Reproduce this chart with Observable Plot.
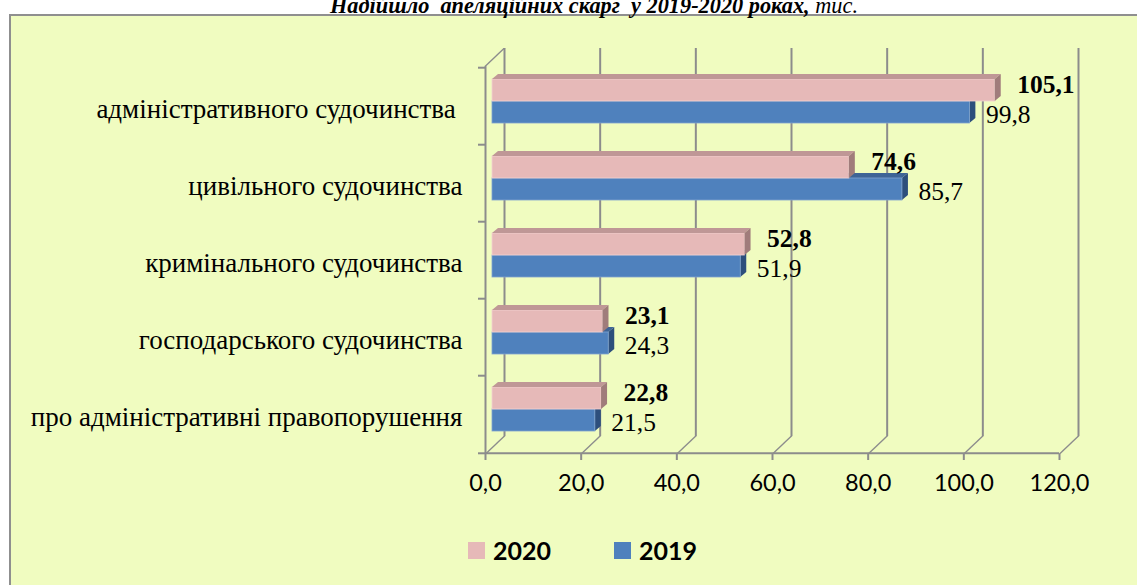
<!DOCTYPE html>
<html>
<head>
<meta charset="utf-8">
<script src="https://cdn.jsdelivr.net/npm/d3@7"></script>
<script src="https://cdn.jsdelivr.net/npm/@observablehq/plot@0.6"></script>
<style>
  html, body { margin: 0; padding: 0; background: #ffffff; overflow: hidden; }
  #page { position: relative; width: 1137px; height: 585px; overflow: hidden; }
  #panel { position: absolute; left: 9px; top: 14px; width: 1200px; height: 620px;
           background: #F0FCC0; border-left: 2px solid #8f8f8f; border-top: 2px solid #8f8f8f; }
  #title { position: absolute; left: 330px; top: -5px; white-space: pre; line-height: 1;
           font-family: "Liberation Serif", "DejaVu Serif", serif; font-size: 22.3px; color: #000; }
  #chart { position: absolute; left: 0; top: 0; }
  #legend { position: absolute; left: 0; top: 0; width: 1137px; height: 585px; pointer-events: none; }
  .lg-item { position: absolute; top: 535px; display: flex; align-items: center; gap: 8px;
             font-family: Lato, "Open Sans", sans-serif; font-weight: bold; font-size: 25px; color: #000; }
  .lg-swatch { width: 17px; height: 17px; display: inline-block; }
  g[aria-description="topface"] rect { transform-box: fill-box; transform-origin: left bottom; transform: skewX(-50.2deg); }
  g[aria-description="sideface"] rect { transform-box: fill-box; transform-origin: left top; transform: skewY(-39.8deg); }
  g[aria-description="slant"] line { transform-box: fill-box; transform-origin: center bottom; transform: skewX(-46.5deg); }
  g[aria-description="catlabels"] text { white-space: pre; }
</style>
</head>
<body>
<div id="page">
  <div id="panel"></div>
  <div id="title"><b><i>Надійшло  апеляційних скарг  у 2019-2020 роках, </i></b><i>тис.</i></div>
  <div id="chart"></div>
  <div id="legend"></div>
</div>
<script>
// ---- data ----
const categories = [
  "адміністративного судочинства ",
  "цивільного судочинства",
  "кримінального судочинства",
  "господарського судочинства",
  "про адміністративні правопорушення"
];
const values2020 = [105.1, 74.6, 52.8, 23.1, 22.8];
const values2019 = [99.8, 85.7, 51.9, 24.3, 21.5];
const xTicks = [0, 20, 40, 60, 80, 100, 120];
const seriesNames = ["2020", "2019"];
const seriesColors = ["#E6B9B8", "#4F81BD"];

// ---- styling / geometry ----
const W = 1137, H = 520;
const ML = 485, MR = W - 1059, MT = 66, MB = H - 454;
const frameW = W - ML - MR, frameH = H - MT - MB;
const step = frameH / categories.length;
const PI = 0.433;
const bw = step * (1 - PI);
const half = bw / 2;
const bx = 7, by = -5;          // bar depth offset
const wx = 19, wy = -18;        // back wall offset
const grid = "#8c8c8c";
const pinkTop = "#BF9796", pinkSide = "#A07C7B";
const blueTop = "#3E6496", blueSide = "#2D4F7C";
const serif = "Liberation Serif";
const sans = "Lato";

const fmt = v => d3.format(".1f")(v).replace(".", ",");
const rows2020 = categories.map((c, i) => ({category: c, value: values2020[i]}));
const rows2019 = categories.map((c, i) => ({category: c, value: values2019[i]}));
const last = categories[categories.length - 1];

const plot = Plot.plot({
  width: W, height: H,
  marginLeft: ML, marginRight: MR, marginTop: MT, marginBottom: MB,
  style: {background: "transparent", overflow: "visible"},
  x: {domain: [0, 120], axis: null},
  y: {domain: categories, axis: null, paddingInner: PI, paddingOuter: PI / 2},
  marks: [
    // back wall gridlines
    Plot.ruleX(xTicks, {x: d => d, dx: wx, dy: wy, stroke: grid, strokeWidth: 2}),
    // floor slants
    Plot.ruleX(xTicks, {x: d => d, insetTop: frameH + wy, stroke: grid, strokeWidth: 2, ariaDescription: "slant"}),
    // left wall front edge and top slant
    Plot.ruleX([0], {x: d => d, stroke: grid, strokeWidth: 2}),
    Plot.ruleX([0], {x: d => d, insetBottom: frameH + wy, dy: wy, stroke: grid, strokeWidth: 2, ariaDescription: "slant"}),
    // left ticks at category boundaries
    Plot.ruleY(categories, {y: d => d, dy: -step / 2, dx: -7, insetRight: frameW - 7, stroke: grid, strokeWidth: 2}),
    Plot.ruleY([last], {y: d => d, dy: step / 2, dx: -7, insetRight: frameW - 7, stroke: grid, strokeWidth: 2}),
    // front bottom edge
    Plot.ruleY([last], {y: d => d, dy: step / 2, stroke: grid, strokeWidth: 2}),
    // front ticks
    Plot.ruleX(xTicks, {x: d => d, insetTop: frameH - 6, dy: 6, stroke: grid, strokeWidth: 2}),

    // 2019 bars (blue)
    Plot.barX(rows2019, {x1: "value", x2: "value", y: "category", insetTop: half, insetRight: -6, dx: bx, dy: by, fill: blueSide, ariaDescription: "sideface"}),
    Plot.barX(rows2019, {x: "value", y: "category", insetTop: half - 5, insetBottom: half, dx: bx, dy: by, fill: blueTop, ariaDescription: "topface"}),
    Plot.barX(rows2019, {x: "value", y: "category", insetTop: half, dx: bx, dy: by, fill: seriesColors[1], stroke: "#7FA3D0", strokeWidth: 0.8}),
    // 2020 bars (pink)
    Plot.barX(rows2020, {x: "value", y: "category", insetBottom: half, dx: bx, dy: by, fill: seriesColors[0], stroke: "#F2D2D1", strokeWidth: 0.8}),
    Plot.barX(rows2020, {x: "value", y: "category", insetBottom: bw - 5, dx: bx, dy: by - 5, fill: pinkTop, ariaDescription: "topface"}),
    Plot.barX(rows2020, {x1: "value", x2: "value", y: "category", insetBottom: half, insetRight: -6, dx: bx, dy: by, fill: pinkSide, ariaDescription: "sideface"}),

    // value labels
    Plot.text(rows2020, {x: "value", y: "category", text: d => fmt(d.value), dx: bx + 22, dy: -21.6, textAnchor: "start",
      fontFamily: serif, fontWeight: "bold", fontSize: 25.5, fill: "#000"}),
    Plot.text(rows2019, {x: "value", y: "category", text: d => fmt(d.value), dx: bx + 16, dy: 8, textAnchor: "start",
      fontFamily: serif, fontSize: 25.5, fill: "#000"}),

    // category labels
    Plot.text(categories, {y: d => d, text: d => d, frameAnchor: "left", dx: -23, dy: 3, textAnchor: "end",
      fontFamily: serif, fontSize: 27, fill: "#000", ariaDescription: "catlabels"}),
    // x tick labels
    Plot.text(xTicks, {x: d => d, text: d => fmt(d), frameAnchor: "bottom", dy: 36, fontFamily: sans, fontSize: 23.5, fill: "#000"})
  ]
});
document.getElementById("chart").appendChild(plot);

// legend
const legend = document.getElementById("legend");
const legendLefts = [468, 614];
seriesNames.forEach((name, i) => {
  const item = document.createElement("div");
  item.className = "lg-item";
  item.style.left = legendLefts[i] + "px";
  const sw = document.createElement("span");
  sw.className = "lg-swatch";
  sw.style.background = seriesColors[i];
  const tx = document.createElement("span");
  tx.textContent = name;
  item.appendChild(sw); item.appendChild(tx);
  legend.appendChild(item);
});
</script>
</body>
</html>
